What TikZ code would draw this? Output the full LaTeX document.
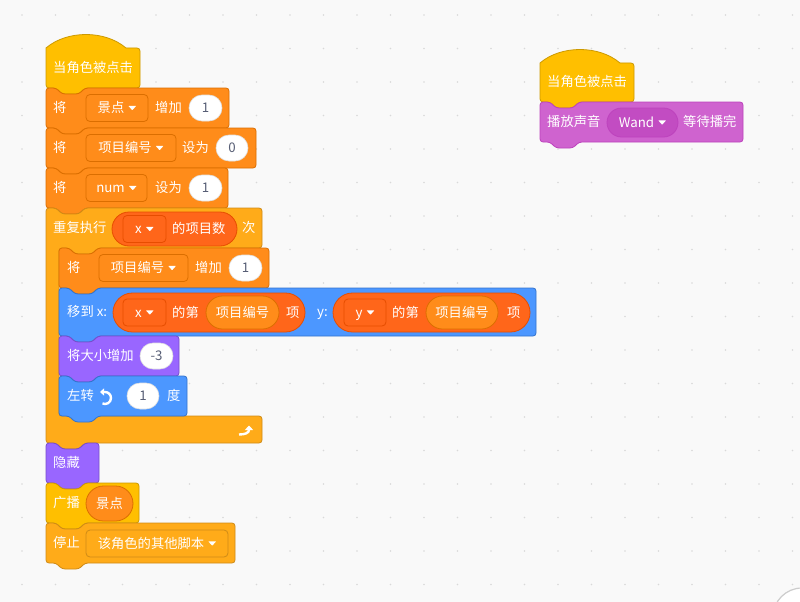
\documentclass[tikz,border=0pt]{standalone}
\usepackage{fontspec}
\setmainfont{Noto Sans CJK SC}
\usepackage{xcolor}
\usetikzlibrary{arrows.meta,calc,positioning,shapes.misc}
\definecolor{bgc}{HTML}{F9F9F9}
\definecolor{dotc}{HTML}{D9D9D9}
\definecolor{evt}{HTML}{FFBF00}
\definecolor{evtb}{HTML}{CC9900}
\definecolor{var}{HTML}{FF8C1A}
\definecolor{varb}{HTML}{DB6E00}
\definecolor{lst}{HTML}{FF661A}
\definecolor{lstb}{HTML}{E64D00}
\definecolor{mot}{HTML}{4C97FF}
\definecolor{motb}{HTML}{3373CC}
\definecolor{lks}{HTML}{9966FF}
\definecolor{lksb}{HTML}{774DCB}
\definecolor{ctl}{HTML}{FFAB19}
\definecolor{ctlb}{HTML}{CF8B17}
\definecolor{snd}{HTML}{CF63CF}
\definecolor{sndb}{HTML}{BD42BD}
\definecolor{sndm}{HTML}{C24CC2}
\definecolor{numtxt}{HTML}{575E75}
\newcommand{\blkfont}{\fontsize{13.3}{16}\selectfont}
\newcommand{\ddarr}{\hspace{4pt}\tikz[baseline=0pt]\fill[white,rounded corners=0.6pt] (0pt,7pt) -- (8pt,7pt) -- (4pt,2.5pt) -- cycle;}
% stack block: fill, border, left, top, right, bottom
\newcommand{\stackblk}[6]{%
	\filldraw[fill=#1, draw=#2, line width=0.8pt, rounded corners=3pt]
	(#3,#4+15) -- (#3,#4) -- (#3+10,#4) -- (#3+16,#4+6) -- (#3+33,#4+6) -- (#3+39,#4)
	-- (#5,#4) -- (#5,#6) -- (#3+39,#6) -- (#3+33,#6+6) -- (#3+16,#6+6)
	-- (#3+10,#6) -- (#3,#6) -- cycle;}
% hat block: fill, border, left, shoulder, right, bottom
\newcommand{\hatblk}[6]{%
	\filldraw[fill=#1, draw=#2, line width=0.8pt]
	(#3,#6-10) -- (#3,#4) .. controls (#3+21,#4-18) and (#3+59,#4-18) .. (#3+80,#4)
	[rounded corners=3pt] -- (#5,#4) -- (#5,#6) -- (#3+39,#6) -- (#3+33,#6+6) -- (#3+16,#6+6)
	-- (#3+10,#6) -- (#3,#6) -- cycle;}
\tikzset{%
	lbl/.style   = {anchor=west, inner sep=0pt, text=white, font=\blkfont, text height=9.5pt, text depth=0pt},
	numin/.style = {rounded rectangle, fill=white, draw=black!12, line width=0.6pt, inner sep=0pt, minimum height=26pt, text=numtxt, font=\blkfont, text height=9.5pt, text depth=0pt},
	menu/.style  = {rectangle, rounded corners=4pt, inner sep=0pt, minimum height=27pt, line width=0.8pt, text=white, font=\blkfont, text height=9.5pt, text depth=0pt},
	rep/.style   = {rounded rectangle, inner sep=0pt, line width=0.8pt, text=white, font=\blkfont, text height=9.5pt, text depth=0pt},
	icon/.style  = {white, line width=2.4pt},
}
\begin{document}
\begin{tikzpicture}[x=1pt,y=-1pt]
	\useasboundingbox (0,0) rectangle (800,602);
	\fill[bgc] (0,0) rectangle (800,602);
	\foreach \i in {0,...,23}
		\foreach \j in {0,...,17}
			\fill[dotc] (22+33.5*\i,15+33.5*\j) circle (0.9);
	
	% left script
	\hatblk{evt}{evtb}{46}{48}{140}{88}
	\node[lbl] (clickA) at (53,68) {当角色被点击};
	
	\stackblk{var}{varb}{46}{88}{229}{128}
	\node[lbl] (chgA) at (53,108) {将};
	\node[menu, fill=var, draw=varb, minimum width=62pt] (spotMenu) at (117,108) {景点\ddarr};
	\node[lbl] (chgB) at (155,108) {增加};
	\node[numin, minimum width=33pt] (chgVal) at (205.5,108) {1};
	
	\stackblk{var}{varb}{46}{128}{256}{168}
	\node[lbl] (setA) at (53,148) {将};
	\node[menu, fill=var, draw=varb, minimum width=90pt] (idxMenuA) at (131,148) {项目编号\ddarr};
	\node[lbl] (setB) at (182,148) {设为};
	\node[numin, minimum width=32pt] (setVal) at (232,148) {0};
	
	\stackblk{var}{varb}{46}{168}{228}{208}
	\node[lbl] (numA) at (53,188) {将};
	\node[menu, fill=var, draw=varb, minimum width=61pt] (numMenu) at (116.5,188) {num\ddarr};
	\node[lbl] (numB) at (155,188) {设为};
	\node[numin, minimum width=33pt] (numVal) at (205.5,188) {1};
	
	% repeat
	\filldraw[fill=ctl, draw=ctlb, line width=0.8pt, rounded corners=3pt]
	(46,228) -- (46,208) -- (56,208) -- (62,214) -- (79,214) -- (85,208) -- (262,208) -- (262,248)
	-- (98,248) -- (92,254) -- (75,254) -- (69,248) -- (59,248) -- (59,416) -- (262,416) -- (262,443)
	-- (85,443) -- (79,449) -- (62,449) -- (56,443) -- (46,443) -- cycle;
	\node[lbl] (rptA) at (53,228) {重复执行};
	\node[rep, fill=lst, draw=lstb, minimum width=125pt, minimum height=34pt] (cntOval) at (174.5,229) {};
	\node[menu, fill=lst, draw=lstb, minimum width=43pt] (cntMenu) at (144.5,229) {x\ddarr};
	\node[lbl] (cntTxt) at (172,229) {的项目数};
	\node[lbl] (rptB) at (242,228) {次};
	\draw[icon, -{Triangle[length=4.5pt,width=8pt]}] (239,434.5) .. controls (245,434.5) and (249,433) .. (249,425.5);
	
	\stackblk{var}{varb}{59}{248}{269}{288}
	\node[lbl] (incA) at (67,268) {将};
	\node[menu, fill=var, draw=varb, minimum width=89pt] (idxMenuB) at (143.5,268) {项目编号\ddarr};
	\node[lbl] (incB) at (195,268) {增加};
	\node[numin, minimum width=33pt] (incVal) at (245.5,268) {1};
	
	\stackblk{mot}{motb}{59}{288}{536}{336}
	\node[lbl] (goA) at (67,312) {移到 x:};
	\node[rep, fill=lst, draw=lstb, minimum width=192pt, minimum height=39pt] (itemX) at (209,312.5) {};
	\node[menu, fill=lst, draw=lstb, minimum width=43pt] (xMenu) at (144.5,312.5) {x\ddarr};
	\node[lbl] (itemXa) at (172,312.5) {的第};
	\node[rep, fill=var, draw=varb, minimum width=73pt, minimum height=33pt] (idxX) at (242.5,312.5) {项目编号};
	\node[lbl] (itemXb) at (286,312.5) {项};
	\node[lbl] (goB) at (317,312) {y:};
	\node[rep, fill=lst, draw=lstb, minimum width=197pt, minimum height=39pt] (itemY) at (431.5,312.5) {};
	\node[menu, fill=lst, draw=lstb, minimum width=42pt] (yMenu) at (365,312.5) {y\ddarr};
	\node[lbl] (itemYa) at (392,312.5) {的第};
	\node[rep, fill=var, draw=varb, minimum width=72pt, minimum height=33pt] (idxY) at (462,312.5) {项目编号};
	\node[lbl] (itemYb) at (507,312.5) {项};
	
	\stackblk{lks}{lksb}{59}{336}{179}{376}
	\node[lbl] (sizeA) at (67,356) {将大小增加};
	\node[numin, minimum width=33pt] (sizeVal) at (156.5,356) {-3};
	
	\stackblk{mot}{motb}{59}{376}{187}{416}
	\node[lbl] (turnA) at (67,396) {左转};
	\draw[icon, {Triangle[length=4pt,width=7pt]}-] (100,392) -- (105,392) arc[start angle=-90, end angle=115, radius=6];
	\node[numin, minimum width=32pt] (turnVal) at (143,396) {1};
	\node[lbl] (turnB) at (167,396) {度};
	
	\stackblk{lks}{lksb}{46}{443}{99}{483}
	\node[lbl] (hideA) at (53,463) {隐藏};
	
	\stackblk{evt}{evtb}{46}{483}{139}{523}
	\node[lbl] (castA) at (53,503) {广播};
	\node[rep, fill=var, draw=varb, minimum width=47pt, minimum height=35pt] (castVar) at (109.5,503.5) {景点};
	
	\stackblk{ctl}{ctlb}{46}{523}{235}{563}
	\node[lbl] (stopA) at (53,543) {停止};
	\node[menu, fill=ctl, draw=ctlb, minimum width=142pt] (stopMenu) at (157,543.5) {该角色的其他脚本\ddarr};
	
	% right script
	\hatblk{evt}{evtb}{540}{63}{634}{102}
	\node[lbl] (clickB) at (547,82) {当角色被点击};
	\stackblk{snd}{sndb}{540}{102}{743}{142}
	\node[lbl] (playA) at (547,122) {播放声音};
	\node[rep, fill=sndm, draw=sndb, minimum width=71pt, minimum height=29pt] (wandMenu) at (642.5,122.5) {Wand\ddarr};
	\node[lbl] (playB) at (683,122) {等待播完};
	
	% zoom button
	\filldraw[fill=white, draw=black!20, line width=1.2pt] (802,617) circle (29);
\end{tikzpicture}
\end{document}
